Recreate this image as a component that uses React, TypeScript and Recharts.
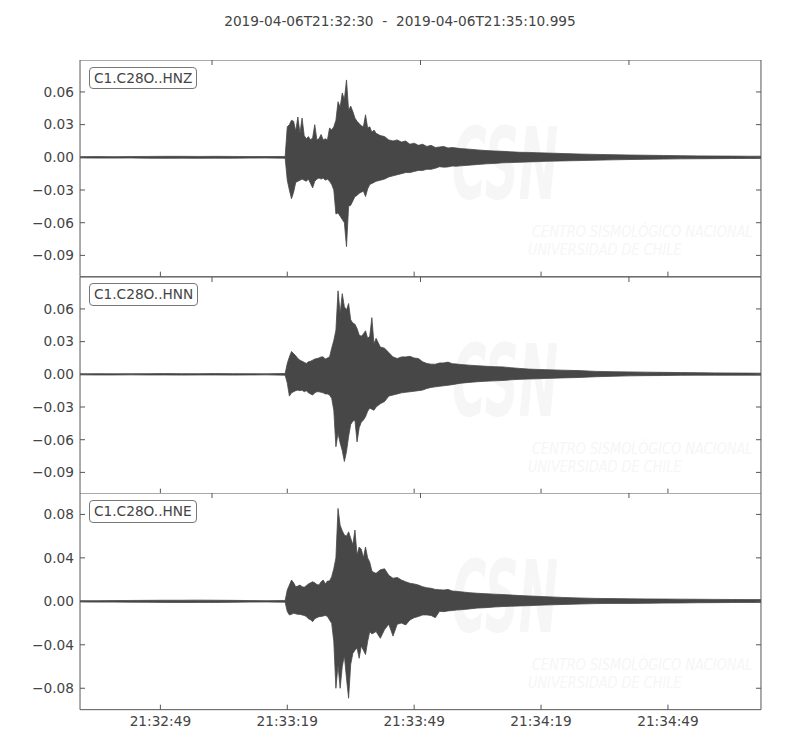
import { Area, AreaChart, XAxis, YAxis } from 'recharts';

// seconds after 2019-04-06T21:32:30
const times = [
  0, 4, 8, 12, 16, 20, 24, 28, 32, 36, 40, 44, 48.5,
  49, 49.5, 50, 50.5, 51, 51.5, 52, 52.5, 53, 53.5,
  54, 54.5, 55, 55.5, 56, 56.5, 57, 57.5, 58, 58.5,
  59, 59.5, 60, 60.5, 61, 61.5, 62, 62.5, 63, 63.5,
  64, 64.5, 65, 65.5, 66, 66.5, 67, 67.5, 68, 68.5,
  69, 69.5, 70,
  71, 72, 73, 74, 75, 76, 77, 78, 79, 80,
  81, 82, 83, 84, 85, 86, 87, 88, 89, 90,
  92, 94, 96, 98, 100, 102, 104, 106, 108, 110,
  114, 118, 122, 126, 130, 134, 138, 142, 146, 150, 154, 158, 161
];

// envelope of each trace (upper / lower)
const hnzMax = [
  0.0006, 0.0007, 0.0006, 0.0007, 0.0008, 0.0009, 0.0009, 0.0008, 0.0009, 0.0008, 0.0007, 0.0007, 0.0008,
  0.028, 0.030, 0.034, 0.033, 0.024, 0.037, 0.022, 0.036, 0.020, 0.017,
  0.019, 0.016, 0.018, 0.030, 0.016, 0.017, 0.021, 0.016, 0.017, 0.016,
  0.027, 0.025, 0.028, 0.034, 0.051, 0.046, 0.059, 0.053, 0.071, 0.043,
  0.047, 0.042, 0.036, 0.033, 0.031, 0.029, 0.028, 0.039, 0.027, 0.028,
  0.023, 0.025, 0.022,
  0.020, 0.019, 0.016, 0.015, 0.016, 0.014, 0.015, 0.012, 0.013, 0.011,
  0.012, 0.010, 0.011, 0.009, 0.0095, 0.010, 0.0085, 0.009, 0.0085, 0.008,
  0.0075, 0.0068, 0.0062, 0.0058, 0.0055, 0.005, 0.0046, 0.0045, 0.0042, 0.004,
  0.0035, 0.003, 0.0027, 0.0024, 0.0021, 0.0019, 0.0017, 0.0015, 0.0013, 0.0012, 0.0011, 0.001, 0.001
];
const hnzMin = [
  -0.0006, -0.0007, -0.0007, -0.0006, -0.0008, -0.0009, -0.0008, -0.0009, -0.0008, -0.0008, -0.0007, -0.0006, -0.0008,
  -0.021, -0.030, -0.038, -0.032, -0.023, -0.022, -0.021, -0.020, -0.021, -0.022,
  -0.020, -0.024, -0.028, -0.022, -0.020, -0.019, -0.020, -0.019, -0.021, -0.020,
  -0.022, -0.025, -0.030, -0.052, -0.051, -0.054, -0.057, -0.060, -0.082, -0.045,
  -0.044, -0.040, -0.036, -0.035, -0.033, -0.032, -0.031, -0.036, -0.029, -0.025,
  -0.024, -0.023, -0.022,
  -0.021, -0.020, -0.018, -0.017, -0.016, -0.015, -0.014, -0.014, -0.013, -0.012,
  -0.012, -0.011, -0.011, -0.010, -0.0086, -0.009, -0.0088, -0.008, -0.0082, -0.0078,
  -0.0072, -0.0066, -0.006, -0.0056, -0.005, -0.0048, -0.0045, -0.0042, -0.004, -0.0037,
  -0.0033, -0.003, -0.0026, -0.0023, -0.002, -0.0018, -0.0016, -0.0014, -0.0013, -0.0012, -0.0011, -0.001, -0.001
];

const hnnMax = [
  0.0005, 0.0006, 0.0005, 0.0006, 0.0006, 0.0007, 0.0006, 0.0006, 0.0007, 0.0006, 0.0006, 0.0005, 0.0008,
  0.010, 0.016, 0.021, 0.019, 0.017, 0.0145, 0.013, 0.012, 0.011, 0.010,
  0.0115, 0.012, 0.013, 0.014, 0.0145, 0.015, 0.016, 0.016, 0.014, 0.015,
  0.016, 0.024, 0.031, 0.0405, 0.0766, 0.0558, 0.074, 0.062, 0.059, 0.065,
  0.050, 0.047, 0.046, 0.042, 0.036, 0.035, 0.037, 0.040, 0.033, 0.035,
  0.052, 0.028, 0.033,
  0.025, 0.024, 0.020, 0.016, 0.0145, 0.016, 0.016, 0.0165, 0.015, 0.0145,
  0.0115, 0.010, 0.0093, 0.0093, 0.0104, 0.0105, 0.0112, 0.0098, 0.0095, 0.009,
  0.0084, 0.0079, 0.0074, 0.007, 0.0068, 0.006, 0.0054, 0.0048, 0.0045, 0.0043,
  0.0038, 0.0034, 0.0027, 0.0024, 0.0022, 0.002, 0.0018, 0.0016, 0.0015, 0.0013, 0.0012, 0.0011, 0.001
];
const hnnMin = [
  -0.0005, -0.0006, -0.0006, -0.0005, -0.0006, -0.0006, -0.0007, -0.0006, -0.0006, -0.0007, -0.0006, -0.0005, -0.0008,
  -0.008, -0.020, -0.017, -0.016, -0.015, -0.0145, -0.015, -0.0145, -0.016, -0.015,
  -0.017, -0.018, -0.019, -0.017, -0.016, -0.016, -0.0165, -0.017, -0.018, -0.018,
  -0.019, -0.022, -0.033, -0.0665, -0.054, -0.063, -0.070, -0.080, -0.071, -0.057,
  -0.046, -0.043, -0.042, -0.062, -0.049, -0.044, -0.042, -0.039, -0.034, -0.031,
  -0.032, -0.033, -0.030,
  -0.027, -0.025, -0.020, -0.019, -0.018, -0.017, -0.0165, -0.016, -0.0155, -0.015,
  -0.0145, -0.013, -0.012, -0.0115, -0.011, -0.0105, -0.010, -0.0095, -0.0088, -0.0082,
  -0.0074, -0.0068, -0.0063, -0.006, -0.0056, -0.005, -0.0046, -0.0043, -0.0041, -0.0038,
  -0.0033, -0.0029, -0.0022, -0.0018, -0.0014, -0.0012, -0.0011, -0.0009, -0.0008, -0.0008, -0.0008, -0.0008, -0.0008
];

const hneMax = [
  0.0006, 0.0006, 0.0007, 0.0008, 0.0009, 0.001, 0.001, 0.0011, 0.001, 0.0009, 0.0007, 0.0006, 0.0008,
  0.0104, 0.015, 0.0196, 0.017, 0.0135, 0.014, 0.015, 0.0135, 0.013, 0.0144,
  0.016, 0.017, 0.018, 0.017, 0.0155, 0.015, 0.018, 0.0196, 0.016, 0.0187,
  0.0187, 0.0227, 0.030, 0.040, 0.0855, 0.070, 0.065, 0.061, 0.060, 0.064,
  0.058, 0.052, 0.0656, 0.0426, 0.050, 0.048, 0.040, 0.050, 0.040, 0.036,
  0.028, 0.0265, 0.0258,
  0.029, 0.030, 0.024, 0.0212, 0.022, 0.0196, 0.018, 0.0166, 0.016, 0.015,
  0.0135, 0.0125, 0.012, 0.011, 0.0107, 0.0104, 0.011, 0.0095, 0.0092, 0.0088,
  0.008, 0.0074, 0.007, 0.0066, 0.0062, 0.0058, 0.0053, 0.005, 0.0046, 0.0043,
  0.0036, 0.0031, 0.0027, 0.0025, 0.0023, 0.0022, 0.0021, 0.002, 0.0019, 0.0018, 0.0017, 0.0016, 0.0016
];
const hneMin = [
  -0.0006, -0.0007, -0.0007, -0.0008, -0.0009, -0.001, -0.0011, -0.001, -0.001, -0.0009, -0.0007, -0.0006, -0.0008,
  -0.0094, -0.0125, -0.012, -0.011, -0.0115, -0.012, -0.012, -0.0125, -0.013, -0.014,
  -0.016, -0.017, -0.0187, -0.016, -0.015, -0.0141, -0.014, -0.0135, -0.013, -0.014,
  -0.0171, -0.0202, -0.037, -0.080, -0.0585, -0.080, -0.060, -0.050, -0.0708, -0.0892,
  -0.058, -0.048, -0.045, -0.043, -0.0524, -0.041, -0.045, -0.049, -0.037, -0.0278,
  -0.030, -0.029, -0.0278,
  -0.034, -0.026, -0.021, -0.032, -0.021, -0.020, -0.0217, -0.0171, -0.015, -0.014,
  -0.0125, -0.0125, -0.013, -0.015, -0.0092, -0.0095, -0.0088, -0.0085, -0.008, -0.0078,
  -0.007, -0.0062, -0.0058, -0.0052, -0.0048, -0.0045, -0.0042, -0.004, -0.0037, -0.0034,
  -0.0029, -0.0025, -0.0021, -0.0019, -0.0019, -0.0018, -0.0016, -0.0015, -0.0013, -0.0012, -0.0011, -0.001, -0.001
];

const timeTicks = [19, 49, 79, 109, 139];
const ampTicksZN = [-0.09, -0.06, -0.03, 0, 0.03, 0.06];
const ampTicksE = [-0.08, -0.04, 0, 0.04, 0.08];

const INK = '#474747';
const FRAME = '#555555';
const FONT = "'DejaVu Sans', sans-serif";
const PANEL_H = 216.67;
// axes that only draw the frame and inner ticks get a hair of room (0 hides them)
const HAIR = 0.01;

function clockLabel(t: number) {
  const total = 21 * 3600 + 32 * 60 + 30 + Math.round(t);
  const parts = [Math.floor(total / 3600), Math.floor((total % 3600) / 60), total % 60];
  return parts.map(v => String(v).padStart(2, '0')).join(':');
}

function ampLabel(v: number) {
  return (v < 0 ? '\u2212' : '') + Math.abs(v).toFixed(2);
}

// keeps the tick line, draws no label
const noLabel = () => <g />;

interface TraceProps {
  label: string;
  top: number;
  mins: number[];
  maxs: number[];
  domain: [number, number];
  ticks: number[];
  showTime?: boolean;
}

function Watermark() {
  const line = {
    height: 18,
    fontSize: 15,
    lineHeight: '18px',
    fontStyle: 'italic' as const,
    whiteSpace: 'nowrap' as const,
    transform: 'scaleX(0.86)',
    transformOrigin: 'left'
  };
  return (
    <div style={{ position: 'absolute', left: 452, top: 46, color: '#f6f6f6', fontFamily: FONT, pointerEvents: 'none' }}>
      <div
        style={{
          height: 117,
          fontSize: 100,
          lineHeight: '117px',
          fontWeight: 'bold',
          fontStyle: 'italic',
          transform: 'scaleX(0.47)',
          transformOrigin: 'left'
        }}
      >
        CSN
      </div>
      <div style={{ ...line, marginLeft: 80 }}>CENTRO SISMOLÓGICO NACIONAL</div>
      <div style={{ ...line, marginLeft: 76 }}>UNIVERSIDAD DE CHILE</div>
    </div>
  );
}

function TracePanel({ label, top, mins, maxs, domain, ticks, showTime }: TraceProps) {
  const data = times.map((t, i) => ({ t, range: [mins[i], maxs[i]] }));
  const height = PANEL_H + (showTime ? 40 : 0);
  const tickStyle = { fill: '#444444', fontSize: 13.7, fontFamily: FONT };
  return (
    <div style={{ position: 'absolute', left: 0, top, width: 800, height }}>
      <Watermark />
      <div style={{ position: 'absolute', left: 0, top: 0 }}>
        <AreaChart width={800} height={height} data={data} margin={{ top: 0, right: 39, bottom: 0, left: 0 }}>
          <XAxis
            xAxisId='b'
            dataKey='t'
            type='number'
            domain={[0, 160.995]}
            allowDataOverflow
            ticks={timeTicks}
            interval={0}
            tickSize={-5}
            tickMargin={12}
            height={showTime ? 40 : HAIR}
            tick={showTime ? tickStyle : noLabel}
            tickFormatter={clockLabel}
            stroke={FRAME}
          />
          <XAxis
            xAxisId='t'
            orientation='top'
            type='number'
            domain={[0, 160.995]}
            allowDataOverflow
            ticks={timeTicks}
            interval={0}
            tickSize={-5}
            height={HAIR}
            tick={noLabel}
            stroke={FRAME}
          />
          <YAxis
            yAxisId='l'
            type='number'
            width={80}
            domain={domain}
            allowDataOverflow
            ticks={ticks}
            interval={0}
            tickSize={-5}
            tickMargin={11}
            tick={tickStyle}
            tickFormatter={ampLabel}
            stroke={FRAME}
          />
          <YAxis
            yAxisId='r'
            orientation='right'
            type='number'
            width={HAIR}
            domain={domain}
            allowDataOverflow
            ticks={ticks}
            interval={0}
            tickSize={-5}
            tick={noLabel}
            stroke={FRAME}
          />
          <Area
            xAxisId='b'
            yAxisId='l'
            dataKey='range'
            type='linear'
            stroke={INK}
            strokeWidth={0.8}
            fill={INK}
            fillOpacity={1}
            dot={false}
            activeDot={false}
            isAnimationActive={false}
          />
        </AreaChart>
      </div>
      <div
        style={{
          position: 'absolute',
          left: 89,
          top: 6.7,
          height: 20.6,
          padding: '0 4px',
          border: '1px solid #777777',
          borderRadius: 4,
          background: '#ffffff',
          color: '#444444',
          fontFamily: FONT,
          fontSize: 13.7,
          lineHeight: '20.6px',
          whiteSpace: 'nowrap'
        }}
      >
        {label}
      </div>
    </div>
  );
}

export default function App() {
  return (
    <div style={{ position: 'absolute', left: 0, top: 0, width: 800, height: 750, background: '#ffffff', overflow: 'hidden' }}>
      <div
        style={{
          position: 'absolute',
          left: 0,
          top: 12,
          width: 800,
          textAlign: 'center',
          fontFamily: FONT,
          fontSize: 13.7,
          lineHeight: '18px',
          color: '#444444',
          whiteSpace: 'pre'
        }}
      >
        {'2019-04-06T21:32:30  -  2019-04-06T21:35:10.995'}
      </div>
      <TracePanel label='C1.C28O..HNZ' top={60} mins={hnzMin} maxs={hnzMax} domain={[-0.1095, 0.0893]} ticks={ampTicksZN} />
      <TracePanel label='C1.C28O..HNN' top={60 + PANEL_H} mins={hnnMin} maxs={hnnMax} domain={[-0.1095, 0.0893]} ticks={ampTicksZN} />
      <TracePanel label='C1.C28O..HNE' top={60 + 2 * PANEL_H} mins={hneMin} maxs={hneMax} domain={[-0.0997, 0.0997]} ticks={ampTicksE} showTime />
    </div>
  );
}
